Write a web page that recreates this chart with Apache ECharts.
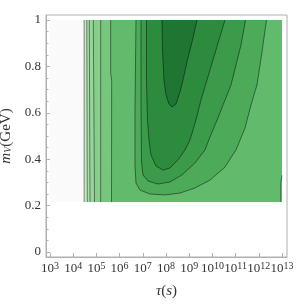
<!DOCTYPE html>
<html><head><meta charset="utf-8">
<script src="https://cdn.jsdelivr.net/npm/echarts@6/dist/echarts.min.js"></script>
<style>html,body{margin:0;padding:0;background:#fff}#c{width:297px;height:304px}</style>
</head><body><div id="c"></div>
<script>
// tick values (x in log10 tau)
const xTicks = [3, 4, 5, 6, 7, 8, 9, 10, 11, 12, 13];
const yTicks = [0, 0.2, 0.4, 0.6, 0.8, 1];
const yMinorTicks = [0.05, 0.1, 0.15, 0.25, 0.3, 0.35, 0.45, 0.5, 0.55, 0.65, 0.7, 0.75, 0.85, 0.9, 0.95];
// data domain
const tauRange = [3, 13];
const mRange = [0.215, 1];
// contour lines, points [log10 tau, m_V]
const line1 = [[4.47, 1], [4.47, 0.215]];
const line2 = [[4.586, 1], [4.608, 0.215]];
const line3 = [[4.694, 1], [4.724, 0.215]];
const line4 = [[4.866, 1], [4.918, 0.215]];
const line5 = [[5.185, 1], [5.185, 0.215]];
const line6 = [[5.616, 1], [5.616, 0.77], [5.659, 0.74], [5.651, 0.215]];
const edgeR = [[12.95, 0.215], [12.95, 0.30], [13, 0.33]];
const contA = [[6.707, 1], [6.664, 0.612], [6.664, 0.375], [6.707, 0.297], [6.879, 0.267], [7.310, 0.250], [7.957, 0.246], [8.603, 0.254], [9.250, 0.276], [9.897, 0.310], [10.543, 0.366], [11.017, 0.440], [11.405, 0.534], [11.664, 0.634], [11.922, 0.720], [12.138, 0.862], [12.332, 1]];
const contB = [[6.922, 1], [6.922, 0.655], [6.944, 0.388], [7.009, 0.332], [7.224, 0.306], [7.655, 0.293], [8.172, 0.302], [8.690, 0.332], [9.250, 0.384], [9.681, 0.440], [9.897, 0.496], [10.241, 0.578], [10.543, 0.655], [10.802, 0.720], [11.017, 0.806], [11.233, 0.892], [11.427, 1]];
const contC = [[7.159, 1], [7.159, 0.741], [7.203, 0.569], [7.267, 0.483], [7.353, 0.418], [7.569, 0.371], [7.871, 0.353], [8.172, 0.362], [8.517, 0.397], [8.819, 0.440], [9.034, 0.483], [9.293, 0.569], [9.509, 0.655], [9.767, 0.741], [10.026, 0.828], [10.284, 0.914], [10.543, 1]];
const contD = [[7.828, 1], [7.849, 0.871], [7.914, 0.741], [8.0, 0.677], [8.129, 0.638], [8.259, 0.625], [8.431, 0.638], [8.603, 0.690], [8.733, 0.741], [8.905, 0.819], [9.034, 0.871], [9.164, 0.922], [9.336, 1]];
// fill colours, lowest to highest level
const levelColors = ['#fafafa', '#c2e9c2', '#a9dfab', '#96d69a', '#87ce8b', '#77c67d', '#62ba6c', '#4caa59', '#3c9b4b', '#2d8b3e', '#1f7532'];

const X0 = tauRange[0], X1 = tauRange[1], Y0 = mRange[0], Y1 = mRange[1];
const regions = [
  [[X0, Y1], [X0, Y0], [X1, Y0], [X1, Y1]],
  line1.concat([[X1, Y0], [X1, Y1]]),
  line2.concat([[X1, Y0], [X1, Y1]]),
  line3.concat([[X1, Y0], [X1, Y1]]),
  line4.concat([[X1, Y0], [X1, Y1]]),
  line5.concat([[X1, Y0], [X1, Y1]]),
  line6.concat(edgeR, [[X1, Y1]]),
  contA, contB, contC, contD
];
const lines = [line1, line2, line3, line4, line5, line6, edgeR, contA, contB, contC, contD];

const serif = 'Liberation Serif';
const txt = '#333';
const axisCol = '#b0b0b0';

const chart = echarts.init(document.getElementById('c'), null, {renderer: 'canvas'});
const series = [{
  type: 'custom',
  data: [[8, 0.5]],
  silent: true,
  z: 1,
  renderItem: function (params, api) {
    return {
      type: 'group',
      children: regions.map(function (pts, i) {
        return {type: 'polygon', shape: {points: pts.map(function (p) { return api.coord(p); })}, style: {fill: levelColors[i]}};
      })
    };
  }
}];
lines.forEach(function (l) {
  series.push({type: 'line', data: l, symbol: 'none', silent: true, z: 3, animation: false,
    lineStyle: {color: 'rgba(0,0,0,0.45)', width: 1}});
});

chart.setOption({
  animation: false,
  grid: {left: 46, top: 15, width: 241, height: 242, show: true, borderColor: axisCol, borderWidth: 1, outerBoundsMode: 'none'},
  xAxis: {
    type: 'value', min: 2.828, max: 13.216,
    name: '{i|τ}{n|(}{i|s}{n|)}', nameLocation: 'middle', nameGap: 27,
    nameTextStyle: {rich: {i: {fontFamily: serif, fontStyle: 'italic', fontSize: 15, color: txt}, n: {fontFamily: serif, fontSize: 15, color: txt}}},
    axisLine: {show: true, onZero: false, lineStyle: {color: axisCol}},
    axisTick: {show: true, inside: true, length: 4, customValues: xTicks, lineStyle: {color: axisCol}},
    axisLabel: {customValues: xTicks, margin: 4,
      formatter: function (v) { return '{b|10}{s|' + Math.round(v) + '}'; },
      rich: {b: {fontFamily: serif, fontSize: 13, color: txt, lineHeight: 16}, s: {fontFamily: serif, fontSize: 10, color: txt, verticalAlign: 'top', lineHeight: 10}}},
    splitLine: {show: false}
  },
  yAxis: [{
    type: 'value', min: -0.0216, max: 1.0216,
    name: '{i|m}{sub|V}{n|(GeV)}', nameLocation: 'middle', nameGap: 27, nameRotate: 90,
    nameTextStyle: {rich: {i: {fontFamily: serif, fontStyle: 'italic', fontSize: 15, color: txt}, sub: {fontFamily: serif, fontStyle: 'italic', fontSize: 10, color: txt, verticalAlign: 'bottom'}, n: {fontFamily: serif, fontSize: 15, color: txt}}},
    axisLine: {show: true, onZero: false, lineStyle: {color: axisCol}},
    axisTick: {show: true, inside: true, length: 4, customValues: yTicks, lineStyle: {color: axisCol}},
    axisLabel: {customValues: yTicks, margin: 5, fontFamily: serif, fontSize: 13, color: txt,
      formatter: function (v) { return String(Math.round(v * 10) / 10); }},
    splitLine: {show: false}
  }, {
    type: 'value', min: -0.0216, max: 1.0216, position: 'left', offset: 0,
    axisLine: {show: false},
    axisTick: {show: true, inside: true, length: 2.5, customValues: yMinorTicks, lineStyle: {color: axisCol}},
    axisLabel: {show: false},
    splitLine: {show: false}
  }],
  series: series
});
</script></body></html>
